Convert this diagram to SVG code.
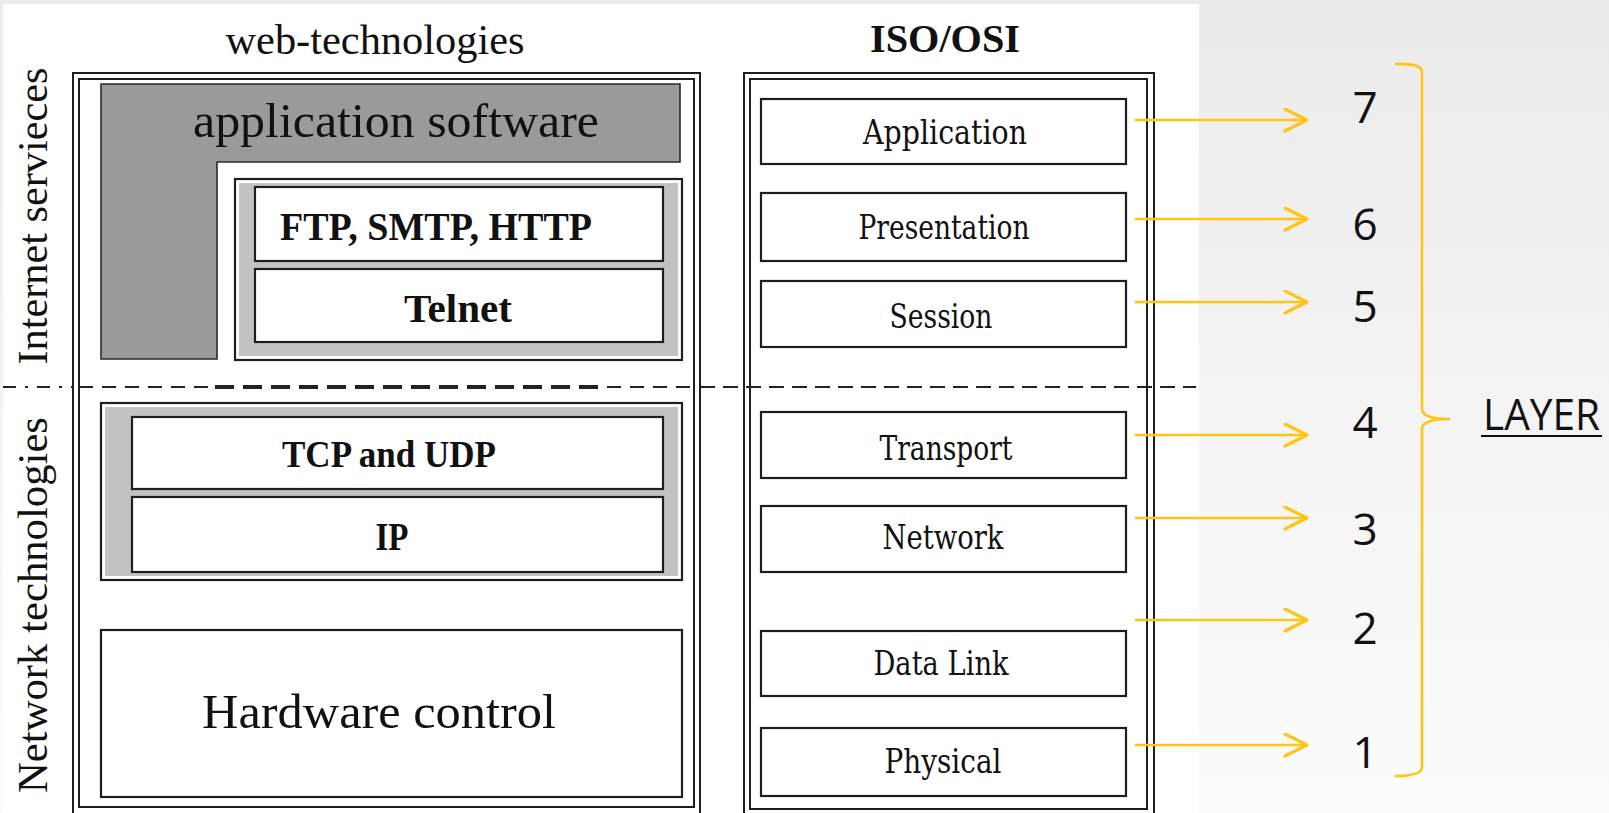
<svg xmlns="http://www.w3.org/2000/svg" width="1609" height="813" viewBox="0 0 1609 813">
  <defs>
    <linearGradient id="bg" x1="0" y1="0" x2="0" y2="1">
      <stop offset="0" stop-color="#ebebeb"/>
      <stop offset="1" stop-color="#fcfcfc"/>
    </linearGradient>
    <marker id="chev" markerWidth="28" markerHeight="28" refX="24" refY="12" orient="auto" markerUnits="userSpaceOnUse">
      <polyline points="2,1 24,12 2,23" fill="none" stroke="#FFC516" stroke-width="3.2" stroke-linecap="round" stroke-linejoin="round"/>
    </marker>
  </defs>
  <style>
    .ln { fill: none; stroke: #1e1e1e; stroke-width: 2; }
    .box { fill: #ffffff; stroke: #1e1e1e; stroke-width: 2.2; }
    .serif { font-family: "Liberation Serif", "Times New Roman", serif; fill: #111; }
    .bold { font-weight: bold; }
    .osi { font-family: "DejaVu Serif", "Liberation Serif", serif; font-size: 34px; fill: #111; text-anchor: middle; }
    .num { font-family: "Open Sans", "Noto Sans", sans-serif; font-size: 44px; fill: #111; text-anchor: middle; }
    .arrow { fill: none; stroke: #FFC516; stroke-width: 2.6; marker-end: url(#chev); }
  </style>

  <!-- background -->
  <rect x="0" y="0" width="1609" height="813" fill="url(#bg)"/>
  <rect x="3" y="4" width="1196" height="809" fill="#ffffff"/>

  <!-- headers -->
  <text class="serif" x="375" y="54" font-size="42" text-anchor="middle" textLength="299" lengthAdjust="spacingAndGlyphs">web-technologies</text>
  <text class="serif bold" x="945" y="52" font-size="40" text-anchor="middle" textLength="150" lengthAdjust="spacingAndGlyphs">ISO/OSI</text>

  <!-- side labels -->
  <text class="serif" transform="translate(47,216) rotate(-90)" font-size="42" text-anchor="middle" textLength="297" lengthAdjust="spacingAndGlyphs">Internet servieces</text>
  <text class="serif" transform="translate(47,605) rotate(-90)" font-size="42" text-anchor="middle" textLength="376" lengthAdjust="spacingAndGlyphs">Network technologies</text>

  <!-- web-technologies outer double frame -->
  <g id="web-frame">
    <rect class="ln" x="73" y="73" width="627" height="745"/>
    <rect class="ln" x="79" y="79" width="615" height="728"/>
  </g>

  <!-- application software L-shape -->
  <g id="app-software">
    <path d="M101,84 L680,84 L680,162 L217,162 L217,359 L101,359 Z" fill="#9a9a9a" stroke="#2a2a2a" stroke-width="1.6"/>
    <text class="serif" x="396" y="137" font-size="48" text-anchor="middle" textLength="406" lengthAdjust="spacingAndGlyphs">application software</text>
  </g>

  <!-- FTP/Telnet container -->
  <g id="inet-protocols">
    <rect class="box" x="235" y="179" width="447" height="181"/>
    <rect x="239" y="183" width="439" height="173" fill="#c2c2c2"/>
  </g>
  <g id="ftp-smtp-http">
    <rect class="box" x="255" y="187" width="408" height="74"/>
    <text class="serif bold" x="280" y="240" font-size="40" textLength="312" lengthAdjust="spacingAndGlyphs">FTP, SMTP, HTTP</text>
  </g>
  <g id="telnet">
    <rect class="box" x="255" y="269" width="408" height="73"/>
    <text class="serif bold" x="458" y="322" font-size="40" text-anchor="middle" textLength="108" lengthAdjust="spacingAndGlyphs">Telnet</text>
  </g>

  <!-- TCP/IP container -->
  <g id="net-protocols">
    <rect class="box" x="101" y="403" width="581" height="177"/>
    <rect x="105" y="407" width="573" height="169" fill="#c2c2c2"/>
  </g>
  <g id="tcp-udp">
    <rect class="box" x="132" y="417" width="531" height="72"/>
    <text class="serif bold" x="389" y="467" font-size="37" text-anchor="middle" textLength="214" lengthAdjust="spacingAndGlyphs">TCP and UDP</text>
  </g>
  <g id="ip">
    <rect class="box" x="132" y="497" width="531" height="75"/>
    <text class="serif bold" x="392" y="550" font-size="40" text-anchor="middle" textLength="33" lengthAdjust="spacingAndGlyphs">IP</text>
  </g>

  <!-- hardware control -->
  <g id="hardware-control">
    <rect class="box" x="101" y="630" width="581" height="167"/>
    <text class="serif" x="379" y="728" font-size="48" text-anchor="middle" textLength="354" lengthAdjust="spacingAndGlyphs">Hardware control</text>
  </g>

  <!-- ISO/OSI outer double frame -->
  <g id="osi-frame">
    <rect class="ln" x="744" y="73" width="410" height="745"/>
    <rect class="ln" x="750" y="79" width="397" height="730"/>
  </g>

  <!-- OSI layers -->
  <g id="osi-application">
    <rect class="box" x="761" y="99" width="365" height="65"/>
    <text class="osi" x="945" y="144" textLength="164" lengthAdjust="spacingAndGlyphs">Application</text>
  </g>
  <g id="osi-presentation">
    <rect class="box" x="761" y="193" width="365" height="68"/>
    <text class="osi" x="944" y="239" textLength="171" lengthAdjust="spacingAndGlyphs">Presentation</text>
  </g>
  <g id="osi-session">
    <rect class="box" x="761" y="281" width="365" height="66"/>
    <text class="osi" x="941" y="328" textLength="103" lengthAdjust="spacingAndGlyphs">Session</text>
  </g>
  <g id="osi-transport">
    <rect class="box" x="761" y="412" width="365" height="66"/>
    <text class="osi" x="946" y="460" textLength="133" lengthAdjust="spacingAndGlyphs">Transport</text>
  </g>
  <g id="osi-network">
    <rect class="box" x="761" y="506" width="365" height="66"/>
    <text class="osi" x="943" y="549" textLength="121" lengthAdjust="spacingAndGlyphs">Network</text>
  </g>
  <g id="osi-datalink">
    <rect class="box" x="761" y="631" width="365" height="65"/>
    <text class="osi" x="941" y="675" textLength="135" lengthAdjust="spacingAndGlyphs">Data Link</text>
  </g>
  <g id="osi-physical">
    <rect class="box" x="761" y="728" width="365" height="68"/>
    <text class="osi" x="943" y="773" textLength="117" lengthAdjust="spacingAndGlyphs">Physical</text>
  </g>

  <!-- divider -->
  <g id="divider">
    <path d="M3,387 L73,387" fill="none" stroke="#222" stroke-width="2" stroke-dasharray="13 9 3 9"/>
    <path d="M79,387 L213,387" fill="none" stroke="#222" stroke-width="2" stroke-dasharray="14 9"/>
    <path d="M215,387 L603,387" fill="none" stroke="#222" stroke-width="4" stroke-dasharray="19 9"/>
    <path d="M607,387 L694,387" fill="none" stroke="#222" stroke-width="2" stroke-dasharray="14 9"/>
    <path d="M700,387 L1196,387" fill="none" stroke="#222" stroke-width="2" stroke-dasharray="15 8"/>
  </g>

  <!-- connectors -->
  <g id="connectors">
    <line class="arrow" x1="1135" y1="120" x2="1307" y2="120"/>
    <line class="arrow" x1="1135" y1="219" x2="1307" y2="219"/>
    <line class="arrow" x1="1135" y1="302" x2="1307" y2="302"/>
    <line class="arrow" x1="1135" y1="435" x2="1307" y2="435"/>
    <line class="arrow" x1="1135" y1="518" x2="1307" y2="518"/>
    <line class="arrow" x1="1135" y1="620" x2="1307" y2="620"/>
    <line class="arrow" x1="1135" y1="745" x2="1307" y2="745"/>
  </g>

  <!-- layer numbers -->
  <g id="numbers">
    <text class="num" x="1365" y="123">7</text>
    <text class="num" x="1365" y="240">6</text>
    <text class="num" x="1365" y="322">5</text>
    <text class="num" x="1365" y="438">4</text>
    <text class="num" x="1365" y="545">3</text>
    <text class="num" x="1365" y="644">2</text>
    <text class="num" x="1365" y="768">1</text>
  </g>

  <!-- brace and label -->
  <g id="layer-brace">
    <path d="M1395,64 Q1422,63 1422,72 L1422,409 Q1422,419 1450,419 Q1422,419 1422,429 L1422,767 Q1422,776 1395,776" fill="none" stroke="#FFC516" stroke-width="2.6"/>
  </g>
  <g id="layer-label">
    <text x="1483" y="430" font-family="Open Sans, Noto Sans, sans-serif" font-size="43" fill="#111" textLength="117" lengthAdjust="spacingAndGlyphs">LAYER</text>
    <line x1="1481" y1="436" x2="1602" y2="436" stroke="#111" stroke-width="2.2"/>
  </g>
</svg>
